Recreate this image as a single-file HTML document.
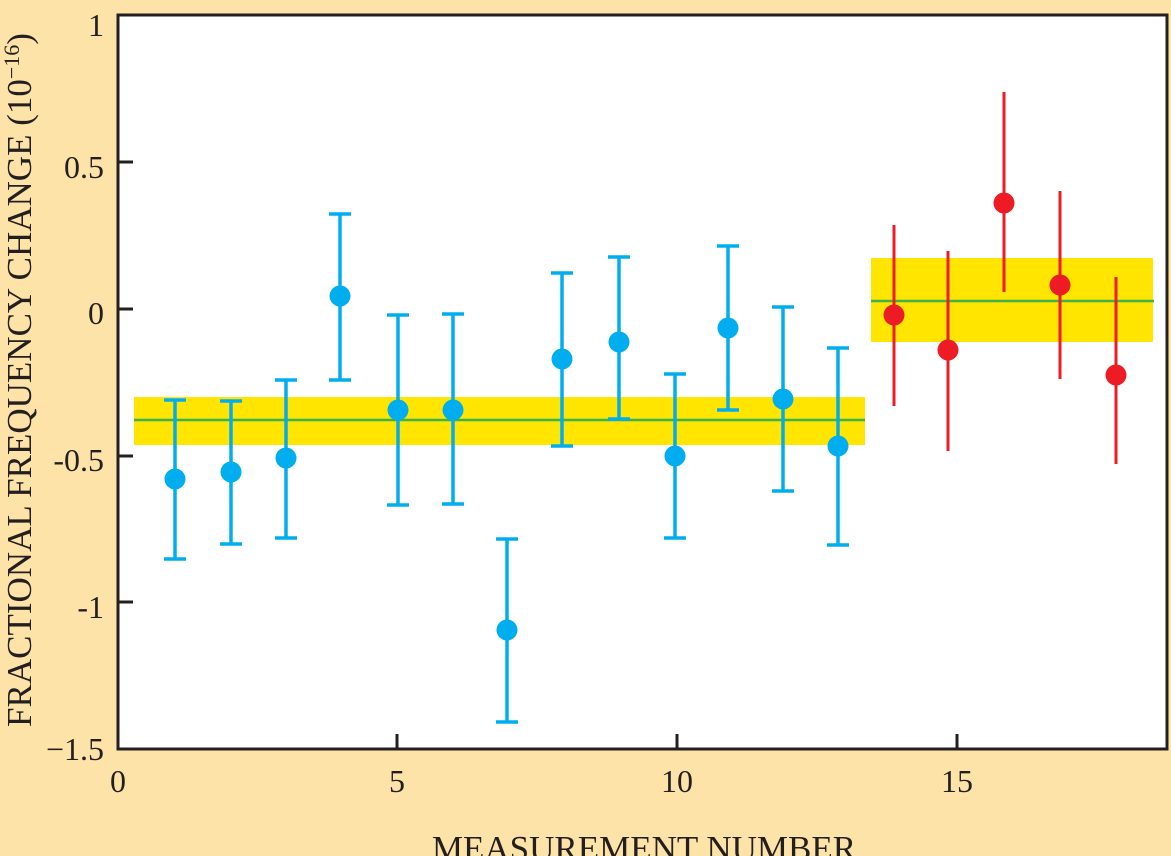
<!DOCTYPE html>
<html><head><style>body{margin:0;background:#fee3a8}svg{display:block}</style></head><body>
<svg width="1171" height="856" xmlns="http://www.w3.org/2000/svg" font-family="Liberation Serif, serif" fill="#231f20">
<rect width="1171" height="856" fill="#fee3a8"/>
<rect x="118" y="15" width="1049" height="734" fill="#fff"/>
<rect x="134" y="397" width="731" height="48" fill="#ffe500"/>
<line x1="134" y1="420" x2="865" y2="420" stroke="#3cb44b" stroke-width="2.5"/>
<rect x="871" y="258" width="282" height="84" fill="#ffe500"/>
<line x1="871" y1="301" x2="1154" y2="301" stroke="#3cb44b" stroke-width="2.5"/>
<g stroke="#00aeef" stroke-width="3.5" fill="#00aeef">
<path d="M175 400V559M164 400H186M164 559H186"/><circle cx="175" cy="479" r="10.5" stroke="none"/>
<path d="M231 401V544M220 401H242M220 544H242"/><circle cx="231" cy="472" r="10.5" stroke="none"/>
<path d="M286 380V538M275 380H297M275 538H297"/><circle cx="286" cy="458" r="10.5" stroke="none"/>
<path d="M340 214V380M329 214H351M329 380H351"/><circle cx="340" cy="296" r="10.5" stroke="none"/>
<path d="M398 315V505M387 315H409M387 505H409"/><circle cx="398" cy="410" r="10.5" stroke="none"/>
<path d="M453 314V504M442 314H464M442 504H464"/><circle cx="453" cy="410" r="10.5" stroke="none"/>
<path d="M507 539V722M496 539H518M496 722H518"/><circle cx="507" cy="630" r="10.5" stroke="none"/>
<path d="M562 273V446M551 273H573M551 446H573"/><circle cx="562" cy="359" r="10.5" stroke="none"/>
<path d="M619 257V419M608 257H630M608 419H630"/><circle cx="619" cy="342" r="10.5" stroke="none"/>
<path d="M675 374V538M664 374H686M664 538H686"/><circle cx="675" cy="456" r="10.5" stroke="none"/>
<path d="M728 246V410M717 246H739M717 410H739"/><circle cx="728" cy="328" r="10.5" stroke="none"/>
<path d="M783 307V491M772 307H794M772 491H794"/><circle cx="783" cy="399" r="10.5" stroke="none"/>
<path d="M838 348V545M827 348H849M827 545H849"/><circle cx="838" cy="446" r="10.5" stroke="none"/>
</g>
<g stroke="#ed1c24" stroke-width="3" fill="#ed1c24">
<path d="M894 225V406"/><circle cx="894" cy="315" r="10.5" stroke="none"/>
<path d="M948 251V451"/><circle cx="948" cy="350" r="10.5" stroke="none"/>
<path d="M1004 92V292"/><circle cx="1004" cy="203" r="10.5" stroke="none"/>
<path d="M1060 191V379"/><circle cx="1060" cy="285" r="10.5" stroke="none"/>
<path d="M1116 277V464"/><circle cx="1116" cy="375" r="10.5" stroke="none"/>
</g>
<rect x="118" y="15" width="1049" height="734" fill="none" stroke="#231f20" stroke-width="3"/>
<g stroke="#231f20" stroke-width="3">
<path d="M118 162H133M118 309H133M118 456H133M118 602H133M397 749V734M677 749V734M957 749V734"/>
</g>
<g font-size="32" text-anchor="end">
<text x="104" y="36">1</text><text x="104" y="178">0.5</text><text x="104" y="324">0</text>
<text x="104" y="471">-0.5</text><text x="104" y="618">-1</text><text x="104" y="760">−1.5</text>
</g>
<g font-size="32" text-anchor="middle">
<text x="118" y="792">0</text><text x="397" y="792">5</text><text x="677" y="792">10</text><text x="957" y="792">15</text>
<text x="644" y="860" font-size="35">MEASUREMENT NUMBER</text>
</g>
<text transform="translate(31,380) rotate(-90)" font-size="35" text-anchor="middle">FRACTIONAL FREQUENCY CHANGE (10<tspan font-size="22" dy="-12">−16</tspan><tspan dy="12">)</tspan></text>
</svg>
</body></html>
